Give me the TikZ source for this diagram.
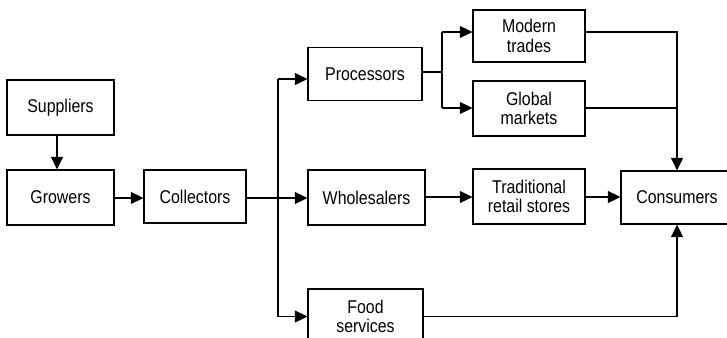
\documentclass[tikz,border=0pt]{standalone}
\usepackage{fontspec}
\setmainfont{Liberation Sans}[FakeStretch=0.86]
\usetikzlibrary{arrows.meta}
\begin{document}
\begin{tikzpicture}[x=1pt,y=-1pt,
  box/.style={draw,line width=1.3pt,inner sep=0pt,align=center,
    font=\fontsize{18.5}{19.5}\selectfont},
  link/.style={line width=1.3pt},
  arr/.style={link,-{Triangle[length=12.5pt,width=12pt]}}]
\useasboundingbox (0,0) rectangle (727,337);
\fill[white] (0,0) rectangle (727,337);
\node[box,minimum width=107pt,minimum height=55pt] (sup) at (60.5,107.5) {Suppliers};
\node[box,minimum width=107pt,minimum height=55pt] (gro) at (60.5,197.5) {Growers};
\node[box,minimum width=102pt,minimum height=53pt] (col) at (195,196.5) {Collectors};
\node[box,minimum width=114pt,minimum height=53pt] (pro) at (365,74) {Processors};
\node[box,minimum width=117pt,minimum height=55pt] (who) at (366.5,197.5) {Wholesalers};
\node[box,minimum width=115pt,minimum height=55pt] (foo) at (365.5,316.5) {Food\\services};
\node[box,minimum width=112pt,minimum height=52pt] (mod) at (529,36) {Modern\\trades};
\node[box,minimum width=112pt,minimum height=55pt] (glo) at (529,108.5) {Global\\markets};
\node[box,minimum width=112pt,minimum height=55pt] (tra) at (529,196.5) {Traditional\\retail stores};
\node[box,minimum width=112pt,minimum height=53pt] (con) at (677,197.5) {Consumers};
% connectors
\coordinate (cx) at (57,0);
\draw[arr] (sup.south -| cx) -- (gro.north -| cx);
\draw[arr] (gro.east |- 0,198) -- (col.west |- 0,198);
\coordinate (br) at (278,198);
\coordinate (brt) at (278,79);
\coordinate (brb) at (278,316.5);
\draw[link] (col.east |- br) -- (br);
\draw[link] (brt) -- (brb);
\draw[arr] (brt) -- (pro.west |- brt);
\draw[arr] (br) -- (who.west |- br);
\draw[arr] (brb) -- (foo.west |- brb);
\coordinate (pb) at (442,72);
\coordinate (pbt) at (442,32);
\coordinate (pbb) at (442,108);
\draw[link] (pro.east |- pb) -- (pb);
\draw[link] (pbt) -- (pbb);
\draw[arr] (pbt) -- (mod.west |- pbt);
\draw[arr] (pbb) -- (glo.west |- pbb);
\draw[arr] (who.east |- 0,197) -- (tra.west |- 0,197);
\draw[arr] (tra.east |- 0,197) -- (con.west |- 0,197);
\coordinate (mt) at (677,32);
\coordinate (gm) at (677,108);
\coordinate (fs) at (677,316.5);
\draw[arr] (mod.east |- mt) -- (mt) -- (con.north);
\draw[link] (glo.east |- gm) -- (gm);
\draw[arr] (foo.east |- fs) -- (fs) -- (con.south);
\end{tikzpicture}
\end{document}
